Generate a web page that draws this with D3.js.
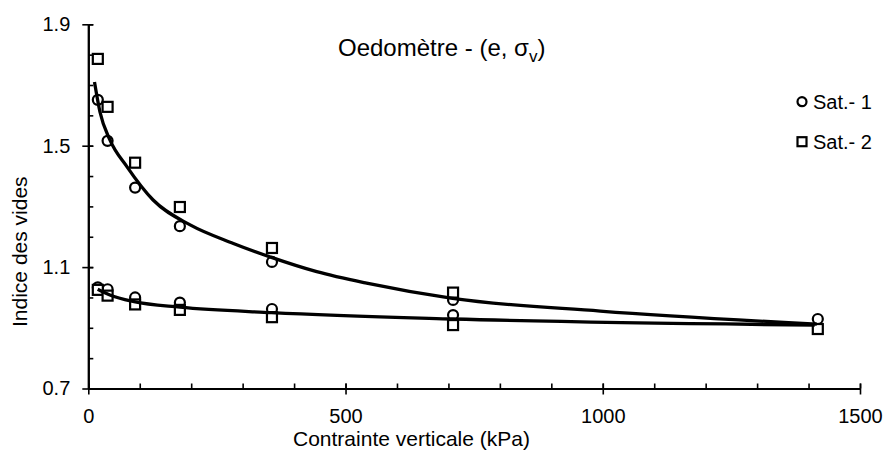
<!DOCTYPE html>
<html>
<head>
<meta charset="utf-8">
<script src="https://cdn.jsdelivr.net/npm/d3@7"></script>
<style>
  body { margin: 0; background: #fff; }
  text { font-family: "Liberation Sans", Arial, sans-serif; fill: #000; }
</style>
</head>
<body>
<svg width="887" height="454"></svg>
<script>
// charge (kPa) for each step
var loadSteps = [18.5, 37.5, 91, 178, 357, 709, 1418];
var unloadSteps = [18.5, 37.5, 91, 178, 357, 709];

// indice des vides
var sat1Load = [1.651, 1.516, 1.362, 1.235, 1.117, 0.992, 0.929];
var sat1Unload = [1.033, 1.027, 1.000, 0.983, 0.962, 0.942];
var sat2Load = [1.786, 1.628, 1.444, 1.298, 1.163, 1.016, 0.896];
var sat2Unload = [1.025, 1.006, 0.977, 0.959, 0.935, 0.909];

// trend curves
var upperCurveX = [12, 22.7, 42, 75, 126, 198, 282, 356, 444, 541, 708, 995, 1416];
var upperCurveY = [1.710, 1.611, 1.519, 1.431, 1.321, 1.239, 1.178, 1.132, 1.085, 1.047, 0.997, 0.955, 0.912];
var lowerCurveX = [18.3, 42, 89, 178, 356, 708, 1412];
var lowerCurveY = [1.027, 1.008, 0.986, 0.968, 0.950, 0.929, 0.909];

var xMajor = [0, 500, 1000, 1500];
var yMajor = [0.7, 1.1, 1.5, 1.9];
var seriesNames = ["Sat.- 1", "Sat.- 2"];

var svg = d3.select("svg"),
    margin = {top: 24.3, right: 27, bottom: 65.5, left: 88.3},
    width = +svg.attr("width") - margin.left - margin.right,
    height = +svg.attr("height") - margin.top - margin.bottom;

var x = d3.scaleLinear().domain([0, 1500]).range([0, width]);
var y = d3.scaleLinear().domain([0.7, 1.9]).range([height, 0]);

var g = svg.append("g")
    .attr("transform", "translate(" + margin.left + "," + margin.top + ")");

// minor ticks, inside only
g.append("g")
    .attr("class", "x minor")
    .attr("transform", "translate(0," + height + ")")
    .call(d3.axisBottom(x).tickValues(d3.range(0, 1501, 100)).tickSize(-5).tickSizeOuter(0).tickFormat(""));
g.append("g")
    .attr("class", "y minor")
    .call(d3.axisLeft(y).tickValues(d3.range(7, 20).map(function (d) { return d / 10; })).tickSize(-5).tickSizeOuter(0).tickFormat(""));

// major ticks with labels
g.append("g")
    .attr("class", "x axis")
    .attr("transform", "translate(0," + height + ")")
    .call(d3.axisBottom(x).tickValues(xMajor).tickSize(6).tickSizeOuter(0).tickPadding(14).tickFormat(d3.format("d")));
g.append("g")
    .attr("class", "y axis")
    .call(d3.axisLeft(y).tickValues(yMajor).tickSize(6).tickSizeOuter(0).tickPadding(12).tickFormat(d3.format(".1f")));

// major ticks cross the axis line
g.selectAll(".x.axis .tick").append("line").attr("y2", -5).attr("stroke", "#000");
g.selectAll(".y.axis .tick").append("line").attr("x2", 5).attr("stroke", "#000");

g.selectAll(".axis path, .minor path").attr("stroke", "#000").attr("stroke-width", 2);
g.selectAll(".tick line").attr("stroke", "#000").attr("stroke-width", 1.6);
g.selectAll(".axis text").style("font-size", "20px").style("font-family", "'Liberation Sans', Arial, sans-serif");

// markers
function pts(xs, ys) {
    return xs.map(function (v, i) { return {x: v, y: ys[i]}; });
}
var circles = pts(loadSteps, sat1Load).concat(pts(unloadSteps, sat1Unload));
var squares = pts(loadSteps, sat2Load).concat(pts(unloadSteps, sat2Unload));

g.selectAll(".c1")
    .data(circles)
    .enter().append("circle")
    .attr("class", "c1")
    .attr("cx", function (d) { return x(d.x); })
    .attr("cy", function (d) { return y(d.y); })
    .attr("r", 5)
    .attr("fill", "#fff")
    .attr("stroke", "#000")
    .attr("stroke-width", 2.2);

g.selectAll(".s2")
    .data(squares)
    .enter().append("rect")
    .attr("class", "s2")
    .attr("x", function (d) { return x(d.x) - 5; })
    .attr("y", function (d) { return y(d.y) - 5; })
    .attr("width", 10)
    .attr("height", 10)
    .attr("fill", "#fff")
    .attr("stroke", "#000")
    .attr("stroke-width", 2.2);

// trend lines
var line = d3.line()
    .x(function (d) { return x(d.x); })
    .y(function (d) { return y(d.y); })
    .curve(d3.curveMonotoneX);

[pts(upperCurveX, upperCurveY), pts(lowerCurveX, lowerCurveY)].forEach(function (c) {
    g.append("path")
        .datum(c)
        .attr("d", line)
        .attr("fill", "none")
        .attr("stroke", "#000")
        .attr("stroke-width", 3.3);
});

// title
var title = svg.append("text")
    .attr("x", 338)
    .attr("y", 56)
    .style("font-size", "24px")
    .text("Oedomètre - (e, σ");
title.append("tspan").attr("dy", 6).style("font-size", "17px").text("v");
title.append("tspan").attr("dy", -6).text(")");

// axis titles
svg.append("text")
    .attr("x", 293)
    .attr("y", 446)
    .style("font-size", "21px")
    .text("Contrainte verticale (kPa)");

svg.append("text")
    .attr("transform", "translate(27,251.7) rotate(-90)")
    .attr("text-anchor", "middle")
    .style("font-size", "21px")
    .text("Indice des vides");

// legend
var legend = svg.append("g").attr("transform", "translate(802,0)");
legend.append("circle").attr("cx", 0).attr("cy", 101.7).attr("r", 4.5)
    .attr("fill", "#fff").attr("stroke", "#000").attr("stroke-width", 2.2);
legend.append("rect").attr("x", -4.5).attr("y", 137.2).attr("width", 9).attr("height", 9)
    .attr("fill", "#fff").attr("stroke", "#000").attr("stroke-width", 2.2);
legend.selectAll(".lt")
    .data(seriesNames)
    .enter().append("text")
    .attr("class", "lt")
    .attr("x", 11)
    .attr("y", function (d, i) { return 108.5 + i * 40; })
    .style("font-size", "20px")
    .text(function (d) { return d; });
</script>
</body>
</html>
